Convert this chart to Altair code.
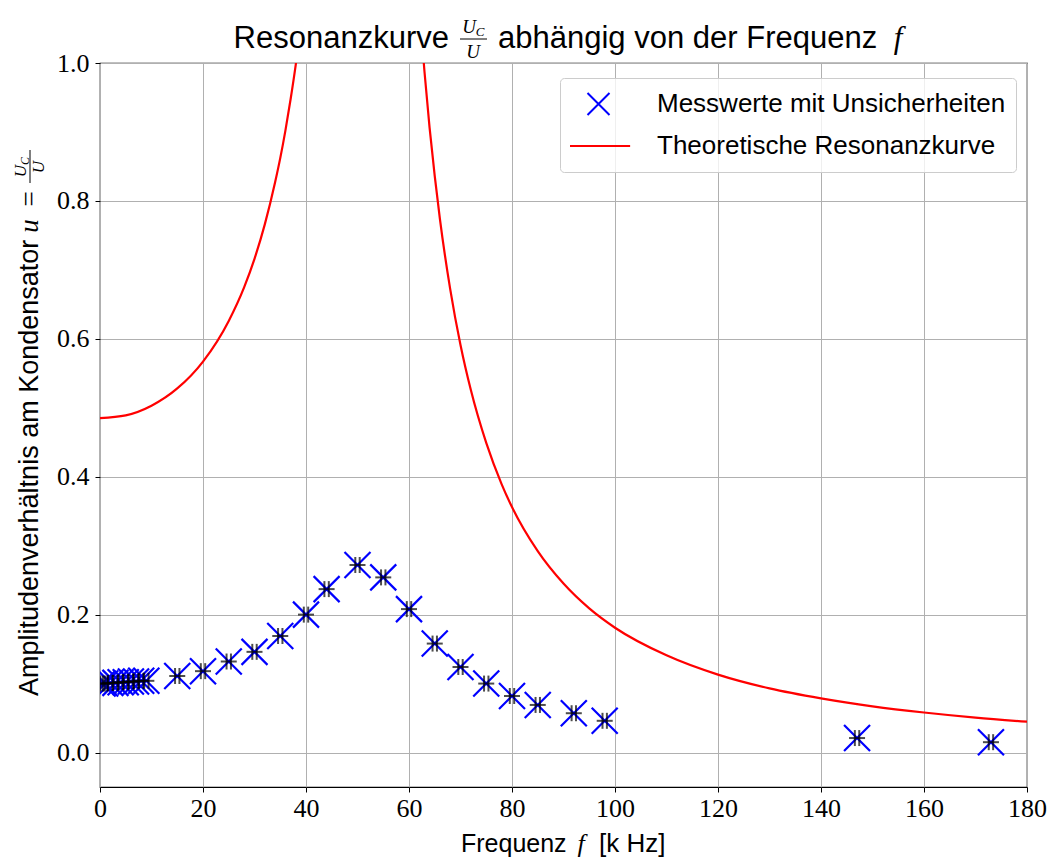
import altair as alt
import pandas as pd

freq_meas = [0.5, 1, 2, 3, 4, 5, 6, 7, 8, 9,
             15, 20, 25, 30, 35, 40, 44, 50, 55, 60, 65, 70, 75, 80, 85, 92, 98, 147, 173]
u_meas = [0.100, 0.100, 0.101, 0.101, 0.102, 0.102, 0.103, 0.103, 0.104, 0.104,
          0.111, 0.118, 0.132, 0.146, 0.169, 0.200, 0.237, 0.272, 0.254, 0.208, 0.158,
          0.124, 0.100, 0.082, 0.069, 0.057, 0.046, 0.021, 0.015]

# ---- theoretical curve, two branches around the pole ----
freq_theo_left = [0, 5, 10, 15, 20, 25, 28, 30, 32, 34, 35, 36, 37, 38, 39, 40]
u_theo_left = [0.485, 0.489, 0.503, 0.528, 0.567, 0.626, 0.675, 0.716, 0.766, 0.827,
               0.862, 0.902, 0.947, 0.997, 1.054, 1.120]
freq_theo_right = [61, 62, 63, 64, 65, 66, 68, 70, 72, 75, 78, 80, 85, 90, 95, 100,
                   110, 120, 130, 140, 150, 160, 170, 180]
u_theo_right = [1.193, 1.082, 0.988, 0.906, 0.836, 0.774, 0.672, 0.591, 0.526, 0.449,
                0.389, 0.356, 0.292, 0.245, 0.209, 0.181, 0.141, 0.113, 0.093, 0.0785,
                0.067, 0.058, 0.0506, 0.0447]

series_names = ["Messwerte mit Unsicherheiten", "Theoretische Resonanzkurve"]
x_ticks = [0, 20, 40, 60, 80, 100, 120, 140, 160, 180]
y_ticks = [0.0, 0.2, 0.4, 0.6, 0.8, 1.0]

W, H = 927, 724
SANS = "Liberation Sans"
SERIF = "Liberation Serif"

meas = pd.DataFrame({"f": freq_meas, "u": u_meas, "series": series_names[0]})
theo = pd.DataFrame({
    "f": freq_theo_left + freq_theo_right,
    "u": u_theo_left + u_theo_right,
    "branch": ["l"] * len(freq_theo_left) + ["r"] * len(freq_theo_right),
})

xs = alt.Scale(domain=[0, 180], nice=False, zero=False)
ys = alt.Scale(domain=[-0.05, 1.0], nice=False, zero=False)

X_PATH = "M-0.4,-0.4L0.4,0.4M0.4,-0.4L-0.4,0.4"
LINE_PATH = "M-1.15,0L1.15,0"

x_enc = alt.X("f:Q", scale=xs, axis=alt.Axis(values=x_ticks, format="d", title=None,
                                             labelFlush=False))
y_enc = alt.Y("u:Q", scale=ys, axis=alt.Axis(values=y_ticks, format=".1f", title=None,
                                             labelFlush=False))

line = alt.Chart(theo).mark_line(color="#ff0000", strokeWidth=2.2, clip=True,
                                 interpolate="monotone").encode(
    x=x_enc, y=y_enc, detail="branch:N")

points = alt.Chart(meas).mark_point(filled=False, size=4225, strokeWidth=2.2,
                                    opacity=1, clip=True).encode(
    x=x_enc, y=y_enc,
    color=alt.Color("series:N", scale=alt.Scale(domain=series_names,
                                                range=["#0000ff", "#ff0000"]),
                    legend=alt.Legend(title=None, orient="none", legendX=460, legendY=15,
                                      symbolSize=3025, symbolStrokeWidth=2,
                                      labelFont=SANS, labelFontSize=26, labelLimit=1000,
                                      labelOffset=30, padding=10, rowPadding=10,
                                      clipHeight=32,
                                      fillColor="rgba(255,255,255,0.8)",
                                      strokeColor="#cccccc", cornerRadius=4)),
    shape=alt.Shape("series:N", scale=alt.Scale(domain=series_names,
                                                range=[X_PATH, LINE_PATH])),
)

tick_h = alt.Chart(meas).mark_tick(orient="horizontal", size=16, thickness=2,
                                   color="black", clip=True).encode(x=x_enc, y=y_enc)
tick_v1 = alt.Chart(meas).mark_tick(orient="vertical", size=16, thickness=2,
                                    color="black", xOffset=-2.2, clip=True).encode(x=x_enc, y=y_enc)
tick_v2 = alt.Chart(meas).mark_tick(orient="vertical", size=16, thickness=2,
                                    color="black", xOffset=2.2, clip=True).encode(x=x_enc, y=y_enc)


def txt(s, x, y, font=SANS, size=25, style="normal", align="left", angle=0):
    return alt.Chart(pd.DataFrame({"t": [s]})).mark_text(
        font=font, fontSize=size, fontStyle=style, align=align, angle=angle,
        baseline="alphabetic", color="black").encode(
        x=alt.value(x), y=alt.value(y), text="t:N")


def hline(x1, x2, y):
    return alt.Chart(pd.DataFrame({"t": [0]})).mark_rule(color="black", strokeWidth=1).encode(
        x=alt.value(x1), x2=alt.value(x2), y=alt.value(y))


def vline(x, y1, y2):
    return alt.Chart(pd.DataFrame({"t": [0]})).mark_rule(color="black", strokeWidth=1).encode(
        x=alt.value(x), y=alt.value(y1), y2=alt.value(y2))


# title: Resonanzkurve U_C/U abhängig von der Frequenz f
title_parts = [
    txt("Resonanzkurve", 349, -15, size=31, align="right"),
    txt("U", 369, -30, font=SERIF, size=19, style="italic", align="center"),
    txt("C", 380, -27, font=SERIF, size=13, style="italic", align="center"),
    hline(360, 387, -24),
    txt("U", 373, -5, font=SERIF, size=19, style="italic", align="center"),
    txt("abhängig von der Frequenz", 398, -15, size=31, align="left"),
    txt("f", 798, -15, font=SERIF, size=31, style="italic", align="center"),
]

# x-axis title: Frequenz f [k Hz]
xtitle_parts = [
    txt("Frequenz", 361, 789, size=25),
    txt("f", 481, 789, font=SERIF, size=26, style="italic", align="center"),
    txt("[k Hz]", 499, 789, size=26),
]

# y-axis title: Amplitudenverhältnis am Kondensator u = U_C/U  (rotated)
ytitle_parts = [
    txt("Amplitudenverhältnis am Kondensator", -62, 633, size=27, angle=270),
    txt("u", -62, 163, font=SERIF, size=27, style="italic", align="center", angle=270),
    txt("=", -62, 136, font=SERIF, size=27, align="center", angle=270),
    txt("U", -74, 108, font=SERIF, size=17, style="italic", align="center", angle=270),
    txt("C", -71, 98, font=SERIF, size=12, style="italic", align="center", angle=270),
    vline(-70, 87, 120),
    txt("U", -56, 104, font=SERIF, size=17, style="italic", align="center", angle=270),
]

chart = alt.layer(
    line, points, tick_h, tick_v1, tick_v2,
    *title_parts, *xtitle_parts, *ytitle_parts
).properties(
    width=W, height=H,
    autosize=alt.AutoSizeParams(type="none"),
    padding={"left": 92, "top": 55, "right": 21, "bottom": 72},
).configure_view(
    stroke="black", strokeWidth=1.2
).configure_axis(
    grid=True, gridColor="#b0b0b0", gridWidth=1,
    domain=False, ticks=True, tickColor="black", tickSize=5, tickWidth=1,
    labelFont=SERIF, labelFontSize=26, labelColor="black",
).configure_axisX(
    labelPadding=3
).configure_axisY(
    labelPadding=6
)

chart.save("out.html", embed_options={"renderer": "svg", "actions": False})
